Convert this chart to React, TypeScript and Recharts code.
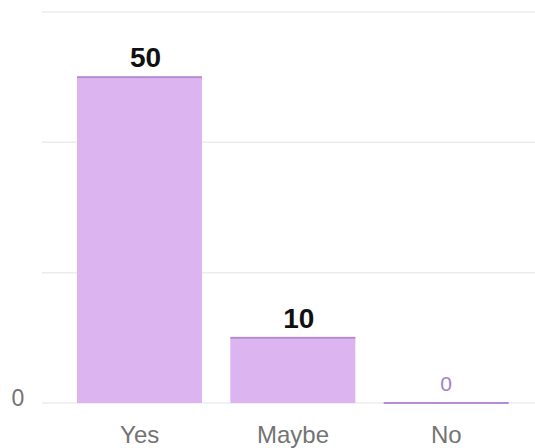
import { BarChart, Bar, XAxis, YAxis, CartesianGrid, LabelList } from "recharts"

const CATEGORIES = ["Yes", "Maybe", "No"]
const VOTES = [50, 10, 0]
const Y_TICKS = [0, 20, 40, 60]

const data = CATEGORIES.map((name, i) => ({ name, value: VOTES[i] }))

const FONT = "'Liberation Sans', Arial, Helvetica, sans-serif"
const FILL = "#dcb5f0"
const EDGE = "#b48cd4"

function BarShape(props: any) {
  const { x, y, width, height } = props
  return (
    <g>
      {height > 0 && <rect x={x} y={y} width={width} height={height} fill={FILL} />}
      <rect x={x} y={y - 1} width={width} height={2} fill={EDGE} />
    </g>
  )
}

function ValueLabel(props: any) {
  const { x, y, width, value } = props
  const cx = x + width / 2
  if (value === 0) {
    return (
      <text x={cx} y={y - 12} textAnchor="middle" fontSize={21} fill="#a57fc8" fontFamily={FONT}>
        {value}
      </text>
    )
  }
  return (
    <text x={cx + 6} y={y - 10} textAnchor="middle" fontSize={28} fontWeight="bold" fill="#111" fontFamily={FONT}>
      {value}
    </text>
  )
}

function XTick(props: any) {
  const { x, payload } = props
  return (
    <text x={x} y={443} textAnchor="middle" fontSize={24} fill="#747474" fontFamily={FONT}>
      {payload.value}
    </text>
  )
}

function YTick(props: any) {
  const { y, payload } = props
  if (payload.value !== 0) return null
  return (
    <text x={18} y={y + 3} textAnchor="middle" fontSize={23} fill="#747474" fontFamily={FONT}>
      {payload.value}
    </text>
  )
}

export default function App() {
  return (
    <div style={{ position: "absolute", left: 0, top: 0, background: "#fff" }}>
      <BarChart width={535} height={448} data={data} margin={{ top: 12, right: 0, bottom: 0, left: 0 }}>
        <CartesianGrid vertical={false} stroke="#ececec" strokeWidth={1.5} />
        <XAxis
          dataKey="name"
          axisLine={false}
          tickLine={false}
          height={45}
          padding={{ left: 21, right: 12 }}
          tick={<XTick />}
          interval={0}
        />
        <YAxis
          width={42}
          domain={[0, 60]}
          ticks={Y_TICKS}
          axisLine={false}
          tickLine={false}
          tick={<YTick />}
        />
        <Bar dataKey="value" barSize={125} shape={<BarShape />} isAnimationActive={false}>
          <LabelList dataKey="value" content={<ValueLabel />} />
        </Bar>
      </BarChart>
    </div>
  )
}
